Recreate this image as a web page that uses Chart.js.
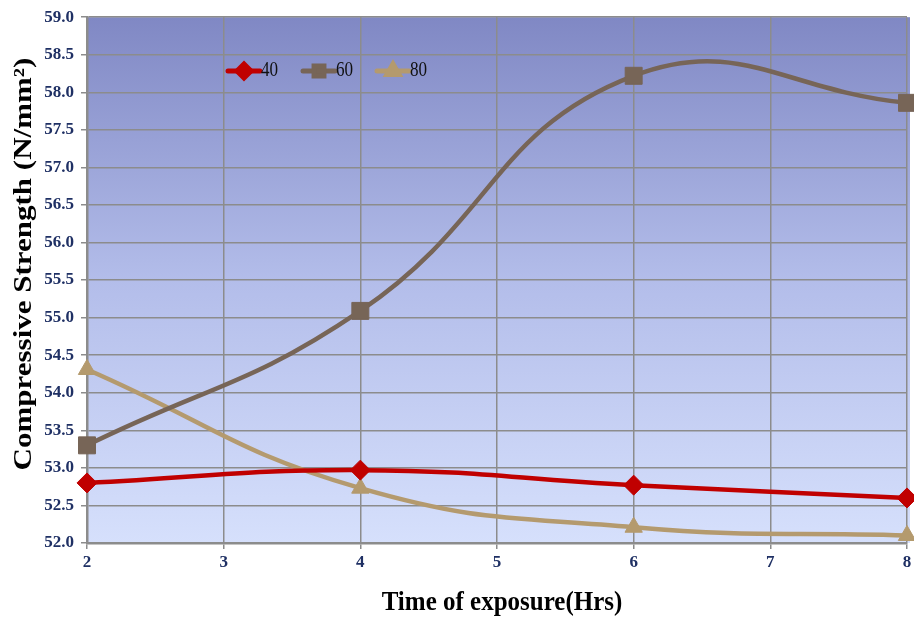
<!DOCTYPE html>
<html>
<head>
<meta charset="utf-8">
<script src="https://cdn.jsdelivr.net/npm/chart.js@4/dist/chart.umd.min.js"></script>
<style>
  html, body { margin: 0; padding: 0; background: #ffffff; }
  #wrap { width: 914px; height: 619px; }
</style>
</head>
<body>
<div id="wrap"><canvas id="c" width="914" height="619"></canvas></div>
<script>
// Exposure time (hours) and compressive strength (N/mm²) for each temperature
const hours = [2, 4, 6, 8];
const series40 = [52.80, 52.97, 52.77, 52.60];
const series60 = [53.30, 55.09, 58.22, 57.86];
const series80 = [54.31, 52.73, 52.21, 52.10];
const seriesNames = ['40', '60', '80'];
const yTicks = [52.0, 52.5, 53.0, 53.5, 54.0, 54.5, 55.0, 55.5, 56.0, 56.5, 57.0, 57.5, 58.0, 58.5, 59.0];
const xTicks = [2, 3, 4, 5, 6, 7, 8];
const yTitle = 'Compressive Strength (N/mm²)';
const xTitle = 'Time of exposure(Hrs)';

const toPoints = vals => hours.map((h, i) => ({ x: h, y: vals[i] }));
const serif = '"Liberation Serif", "Times New Roman", serif';

// Gradient fill behind the plotting area
const plotBackground = {
  id: 'plotBackground',
  beforeDraw(chart) {
    const { ctx, chartArea: a } = chart;
    const g = ctx.createLinearGradient(0, a.top, 0, a.bottom);
    g.addColorStop(0, '#8088c4');
    g.addColorStop(0.5, '#b3bdea');
    g.addColorStop(1, '#d6e0fc');
    ctx.save();
    ctx.fillStyle = g;
    ctx.fillRect(a.left, a.top, a.right - a.left + 3, a.bottom - a.top);
    ctx.restore();
  }
};

// Axis titles, drawn slightly stretched along the reading direction
const axisTitles = {
  id: 'axisTitles',
  afterDraw(chart) {
    const { ctx } = chart;
    ctx.save();
    ctx.fillStyle = '#000000';
    ctx.font = 'bold 25px ' + serif;
    ctx.textAlign = 'center';
    ctx.textBaseline = 'middle';
    ctx.translate(25, 264);
    ctx.rotate(-Math.PI / 2);
    ctx.scale(1.24, 1);
    ctx.fillText(yTitle, 0, 0);
    ctx.restore();

    ctx.save();
    ctx.fillStyle = '#000000';
    ctx.font = 'bold 25px ' + serif;
    ctx.textAlign = 'center';
    ctx.textBaseline = 'middle';
    ctx.translate(502, 603);
    ctx.scale(1.0, 1.1);
    ctx.fillText(xTitle, 0, 0);
    ctx.restore();
  }
};

// Legend drawn inside the plot, near the top
const innerLegend = {
  id: 'innerLegend',
  afterDatasetsDraw(chart) {
    const { ctx } = chart;
    const starts = [228, 303, 377];
    const y = 71;
    ctx.save();
    chart.data.datasets.forEach((ds, i) => {
      const x0 = starts[i];
      ctx.strokeStyle = ds.borderColor;
      ctx.lineWidth = 5;
      ctx.lineCap = 'round';
      ctx.beginPath();
      ctx.moveTo(x0, y);
      ctx.lineTo(x0 + 32, y);
      ctx.stroke();
      ctx.fillStyle = ds.borderColor;
      ctx.strokeStyle = ds.borderColor;
      Chart.helpers.drawPoint(ctx, { pointStyle: ds.pointStyle, radius: 7, borderWidth: 1 }, x0 + 16, y);
      ctx.fillStyle = '#111111';
      ctx.font = '18px ' + serif;
      ctx.textBaseline = 'middle';
      ctx.textAlign = 'left';
      ctx.save();
      ctx.translate(x0 + 33, y);
      ctx.scale(0.95, 1.15);
      ctx.fillText(seriesNames[i], 0, 0);
      ctx.restore();
    });
    ctx.restore();
  }
};

const common = {
  borderWidth: 4.5,
  tension: 0.45,
  pointHoverRadius: 10,
  pointBorderWidth: 1,
  fill: false,
  clip: false
};

new Chart(document.getElementById('c'), {
  type: 'line',
  data: {
    datasets: [
      { ...common, label: seriesNames[0], data: toPoints(series40),
        borderColor: '#c00000', backgroundColor: '#c00000', pointStyle: 'rectRot', pointRadius: 10 },
      { ...common, label: seriesNames[1], data: toPoints(series60),
        borderColor: '#776557', backgroundColor: '#776557', pointStyle: 'rect', pointRadius: 12 },
      { ...common, label: seriesNames[2], data: toPoints(series80),
        borderColor: '#b49a6e', backgroundColor: '#b49a6e', pointStyle: 'triangle', pointRadius: 10 }
    ]
  },
  options: {
    responsive: false,
    animation: false,
    layout: { autoPadding: false, padding: { top: 17, right: 7, left: 0, bottom: 0 } },
    plugins: {
      legend: { display: false },
      tooltip: { enabled: false }
    },
    scales: {
      x: {
        type: 'linear',
        min: 2,
        max: 8,
        afterBuildTicks: s => { s.ticks = xTicks.map(v => ({ value: v })); },
        afterFit: s => { s.height = 76; s.paddingRight = 0; s.paddingLeft = 0; },
        grid: { color: '#8c8c8c', lineWidth: 1.5, tickLength: 6, drawTicks: true },
        border: { color: '#8c8c8c', width: 2.5 },
        ticks: {
          color: '#1f3064',
          font: { family: serif, size: 17, weight: 'bold' },
          padding: 3,
          maxRotation: 0
        }
      },
      y: {
        min: 52,
        max: 59,
        afterBuildTicks: s => { s.ticks = yTicks.map(v => ({ value: v })); },
        afterFit: s => { s.width = 87; },
        grid: { color: '#8c8c8c', lineWidth: 1.5, tickLength: 6 },
        border: { color: '#8c8c8c', width: 2.5 },
        ticks: {
          color: '#1f3064',
          font: { family: serif, size: 17, weight: 'bold' },
          padding: 7,
          callback: v => Number(v).toFixed(1)
        }
      }
    }
  },
  plugins: [plotBackground, innerLegend, axisTitles]
});
</script>
</body>
</html>
